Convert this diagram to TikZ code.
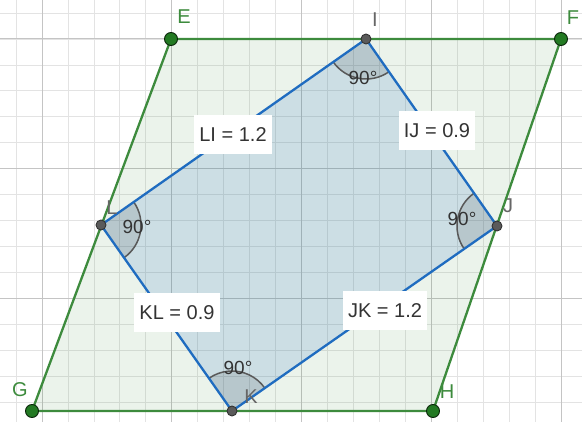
\documentclass[tikz,border=0pt]{standalone}
\usepackage{fontspec}
\setmainfont{Liberation Sans}
\usetikzlibrary{angles}
\definecolor{ggreen}{HTML}{3D8B3D}
\definecolor{gblue}{HTML}{1F6CC0}
\definecolor{gtext}{HTML}{333333}
\definecolor{glab}{HTML}{666666}
\definecolor{gdot}{HTML}{5A5A5A}
\definecolor{gdotg}{HTML}{237A23}
\definecolor{minorgrid}{HTML}{E3E3E3}
\definecolor{majorgrid}{HTML}{C4C4C4}
\tikzset{
  edgelab/.style={fill=white, text=gtext, inner xsep=5pt, minimum height=39pt, font=\fontsize{20}{23}\selectfont},
  ptlab/.style={font=\fontsize{20}{23}\selectfont, inner sep=0pt},
  anglab/.style={text=gtext, font=\fontsize{19}{22}\selectfont, inner sep=0pt},
  greendot/.style={circle, fill=gdotg, draw=black!70!gdotg, line width=0.9pt, minimum size=13pt, inner sep=0pt},
  graydot/.style={circle, fill=gdot, draw=black!80, line width=0.9pt, minimum size=10pt, inner sep=0pt},
  rightang/.style={draw=black!65, line width=1.5pt, fill=black, fill opacity=0.1, draw opacity=1, angle radius=40pt},
}
\begin{document}
\begin{tikzpicture}[x=1pt,y=-1pt]
\useasboundingbox (0,0) rectangle (582,422);
\fill[white] (0,0) rectangle (582,422);
% grid
\foreach \k in {-1,...,21} {
  \draw[minorgrid, line width=0.8pt] ({42+\k*25.95},0) -- ({42+\k*25.95},422);
}
\foreach \k in {-1,...,16} {
  \draw[minorgrid, line width=0.8pt] (0,{39+\k*25.95}) -- (582,{39+\k*25.95});
}
\foreach \k in {0,...,4} {
  \draw[majorgrid, line width=1pt] ({42+\k*129.75},0) -- ({42+\k*129.75},422);
}
\foreach \k in {0,...,3} {
  \draw[majorgrid, line width=1pt] (0,{39+\k*129.75}) -- (582,{39+\k*129.75});
}
% points
\coordinate (E) at (171,39);
\coordinate (F) at (561,39);
\coordinate (G) at (32,411);
\coordinate (H) at (433,411);
\coordinate (I) at (366,39);
\coordinate (J) at (497,226);
\coordinate (K) at (232,411);
\coordinate (L) at (101,225);
% fills
\fill[ggreen, fill opacity=0.1] (E) -- (F) -- (H) -- (G) -- cycle;
\fill[gblue, fill opacity=0.15] (I) -- (J) -- (K) -- (L) -- cycle;
% right angle marks
\pic[rightang] {angle = L--I--J};
\pic[rightang] {angle = I--J--K};
\pic[rightang] {angle = J--K--L};
\pic[rightang] {angle = K--L--I};
% edges
\draw[ggreen, line width=2.3pt, line join=round] (E) -- (F) -- (H) -- (G) -- cycle;
\draw[gblue, line width=2.3pt, line join=round] (I) -- (J) -- (K) -- (L) -- cycle;
% edge labels
\node[edgelab] (lLI) at (233,135) {LI = 1.2};
\node[edgelab] (lIJ) at (437,131) {IJ = 0.9};
\node[edgelab] (lKL) at (177,313) {KL = 0.9};
\node[edgelab] (lJK) at (385,311) {JK = 1.2};
% angle labels
\node[anglab] (aI) at (363,78) {90°};
\node[anglab] (aJ) at (462,219) {90°};
\node[anglab] (aK) at (238,368) {90°};
\node[anglab] (aL) at (137,227) {90°};
% dots
\node[greendot] (pE) at (E) {};
\node[greendot] (pF) at (F) {};
\node[greendot] (pG) at (G) {};
\node[greendot] (pH) at (H) {};
\node[graydot] (pI) at (I) {};
\node[graydot] (pJ) at (J) {};
\node[graydot] (pK) at (K) {};
\node[graydot] (pL) at (L) {};
% point labels
\node[ptlab, text=ggreen] (tE) at (184,17) {E};
\node[ptlab, text=ggreen] (tF) at (573,18) {F};
\node[ptlab, text=ggreen] (tG) at (20,390) {G};
\node[ptlab, text=ggreen] (tH) at (447,392) {H};
\node[ptlab, text=glab] (tI) at (375,20) {I};
\node[ptlab, text=glab] (tJ) at (508,206) {J};
\node[ptlab, text=glab] (tK) at (251,397) {K};
\node[ptlab, text=glab] (tL) at (112,208) {L};
\end{tikzpicture}
\end{document}
